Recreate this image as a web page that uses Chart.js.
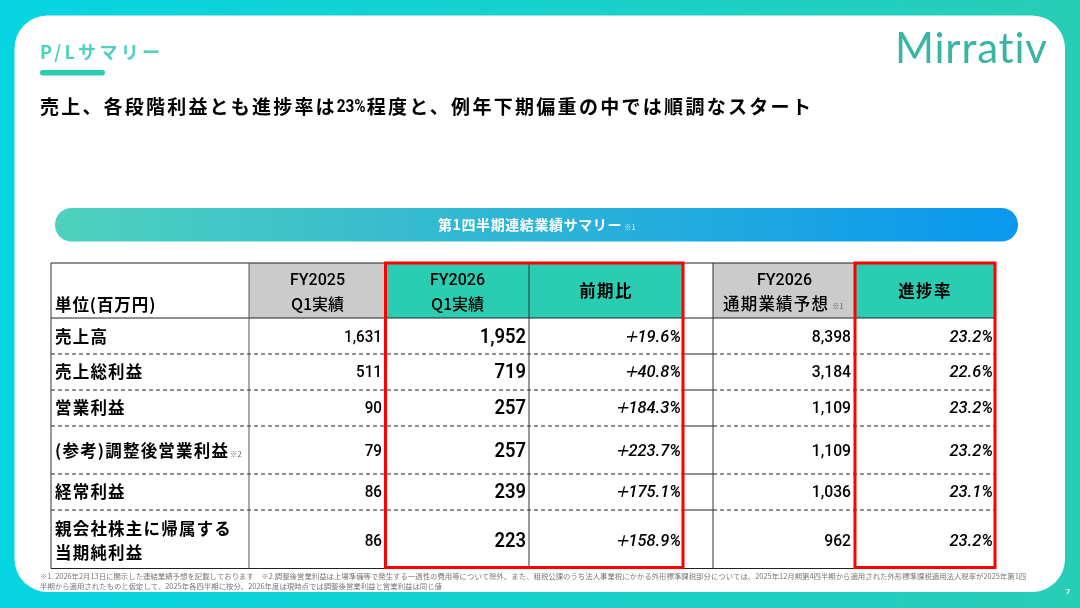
<!DOCTYPE html>
<html lang="ja">
<head>
<meta charset="utf-8">
<title>P/Lサマリー</title>
<script src="https://cdn.jsdelivr.net/npm/chart.js@4"></script>
<style>
  /* the plus sign in the original is much wider than Roboto's */
  @font-face { font-family: "WidePlus"; src: local("DejaVu Sans"); unicode-range: U+2B; font-style: normal; font-weight: 100 900; }
  html, body { margin: 0; padding: 0; background: #fff; overflow: hidden; }
  canvas { display: block; }
</style>
</head>
<body>
<canvas id="plChart" width="1080" height="608"></canvas>
<script>
// values
const rowLabels = ['売上高', '売上総利益', '営業利益', '(参考)調整後営業利益', '経常利益', '親会社株主に帰属する'];
const fy2025Q1 = [1631, 511, 90, 79, 86, 86];
const fy2026Q1 = [1952, 719, 257, 257, 239, 223];
const yoyChange = [19.6, 40.8, 184.3, 223.7, 175.1, 158.9];
const fy2026Forecast = [8398, 3184, 1109, 1109, 1036, 962];
const progressRate = [23.2, 22.6, 23.2, 23.2, 23.1, 23.2];

const pageTitle = 'P/Lサマリー';
const bannerTitle = '第1四半期連結業績サマリー';
const footnote1 = '※1. 2026年2月13日に開示した連結業績予想を記載しております　※2.調整後営業利益は上場準備等で発生する一過性の費用等について除外。また、租税公課のうち法人事業税にかかる外形標準課税部分については、2025年12月期第4四半期から適用された外形標準課税適用法人税率が2025年第1四';
const footnote2 = '半期から適用されたものと仮定して、2025年各四半期に按分。2026年度は現時点では調整後営業利益と営業利益は同じ値';

// table layout, in slide units
const colEdges = [51, 249, 386, 529, 683, 713, 855, 995];
const rowEdges = [263, 318, 354, 390, 426, 474, 510, 568.5];
const rowTextY = [338, 373, 409, 452, 493, 542];

const JP = '"Noto Sans CJK JP"';

function columnPoints(values, rightX) {
  return values.map((v, i) => ({ x: rightX, y: rowTextY[i] }));
}

function plainNumber(v) {
  return v.toLocaleString('en-US');
}
function plusPercent(v) {
  return '+' + v.toFixed(1) + '%';
}
function percent(v) {
  return v.toFixed(1) + '%';
}

function drawText(ctx, text, x, y, opts) {
  ctx.save();
  ctx.font = opts.font;
  ctx.fillStyle = opts.color || '#000';
  ctx.textAlign = opts.align || 'left';
  ctx.textBaseline = 'middle';
  ctx.letterSpacing = (opts.spacing || 0) + 'px';
  ctx.translate(x, y);
  ctx.scale(opts.squeeze || 1, 1);
  ctx.fillText(text, 0, 0);
  ctx.restore();
}

function textWidth(ctx, text, font, spacing) {
  ctx.save();
  ctx.font = font;
  ctx.letterSpacing = (spacing || 0) + 'px';
  const w = ctx.measureText(text).width;
  ctx.restore();
  return w;
}

function roundedBox(ctx, x, y, w, h, r) {
  ctx.beginPath();
  ctx.roundRect(x, y, w, h, r);
  ctx.fill();
}

// slide background, header and banner
const slidePlugin = {
  id: 'slide',
  beforeDraw(chart) {
    const ctx = chart.ctx;
    const sx = chart.scales.x, sy = chart.scales.y;
    const X = v => sx.getPixelForValue(v), Y = v => sy.getPixelForValue(v);

    const bg = ctx.createLinearGradient(X(0), 0, X(1080), 0);
    bg.addColorStop(0, '#06d5e2');
    bg.addColorStop(1, '#28cdb6');
    ctx.fillStyle = bg;
    ctx.fillRect(X(0), Y(0), X(1080) - X(0), Y(608) - Y(0));

    ctx.fillStyle = '#fff';
    roundedBox(ctx, X(14.5), Y(15.5), X(1065) - X(14.5), Y(592) - Y(15.5), 33);

    drawText(ctx, pageTitle, X(40), Y(52.5), { font: 'bold 18px ' + JP, color: '#4fd2bd', spacing: 3.3 });
    ctx.fillStyle = '#2bcdb2';
    roundedBox(ctx, X(40), Y(70), X(105) - X(40), 5.5, 2.7);

    // heading is three runs because the digits are narrower in the original
    const headFont = 'bold 19px ' + JP;
    const headA = '売上、各段階利益とも進捗率は';
    const headB = '23%';
    const headC = '程度と、例年下期偏重の中では順調なスタート';
    let hx = X(40);
    drawText(ctx, headA, hx, Y(107), { font: headFont, spacing: 2.2 });
    hx += textWidth(ctx, headA, headFont, 2.2);
    drawText(ctx, headB, hx, Y(107), { font: 'bold 18px Roboto', squeeze: 0.85 });
    hx += textWidth(ctx, headB, 'bold 18px Roboto') * 0.85 + 1;
    drawText(ctx, headC, hx, Y(107), { font: headFont, spacing: 2.3 });

    // logo
    const logo = ctx.createLinearGradient(X(895), 0, X(1047), 0);
    logo.addColorStop(0, '#38b5a3');
    logo.addColorStop(1, '#45bcae');
    drawText(ctx, 'Mirrativ', X(895), Y(49), { font: '400 42px Lato', color: logo, spacing: 0.8 });

    const band = ctx.createLinearGradient(X(55), 0, X(1018), 0);
    band.addColorStop(0, '#4fd1bd');
    band.addColorStop(1, '#0a97ef');
    ctx.fillStyle = band;
    roundedBox(ctx, X(55), Y(208), X(1018) - X(55), Y(241.5) - Y(208), 16.5);
    drawText(ctx, bannerTitle, X(438), Y(225), { font: 'bold 14px ' + JP, color: '#fff', spacing: 0.6 });
    drawText(ctx, '※1', X(624), Y(227), { font: '7.5px ' + JP, color: '#dff2f8' });

    drawText(ctx, footnote1, X(40), Y(576.5), { font: '7.4px ' + JP, color: '#777' });
    drawText(ctx, footnote2, X(40), Y(586), { font: '7.4px ' + JP, color: '#777' });
    drawText(ctx, '7', X(1068), Y(592), { font: 'bold 8px Roboto', color: '#fff', align: 'center' });
  }
};

// grid, header cells and the text around the values
const tablePlugin = {
  id: 'table',
  beforeDatasetsDraw(chart) {
    const ctx = chart.ctx;
    const sx = chart.scales.x, sy = chart.scales.y;
    const X = v => sx.getPixelForValue(v), Y = v => sy.getPixelForValue(v);
    const top = rowEdges[0], head = rowEdges[1], bottom = rowEdges[rowEdges.length - 1];

    ctx.fillStyle = '#cbcbcb';
    ctx.fillRect(X(colEdges[1]), Y(top), X(colEdges[2]) - X(colEdges[1]), Y(head) - Y(top));
    ctx.fillRect(X(colEdges[5]), Y(top), X(colEdges[6]) - X(colEdges[5]), Y(head) - Y(top));
    ctx.fillStyle = '#2bcdb2';
    ctx.fillRect(X(colEdges[2]), Y(top), X(colEdges[4]) - X(colEdges[2]), Y(head) - Y(top));
    ctx.fillRect(X(colEdges[6]), Y(top), X(colEdges[7]) - X(colEdges[6]), Y(head) - Y(top));

    function hLine(x0, x1, y, dash) {
      ctx.setLineDash(dash || []);
      ctx.beginPath();
      ctx.moveTo(X(x0), Y(y));
      ctx.lineTo(X(x1), Y(y));
      ctx.stroke();
    }
    function vLine(x, y0, y1) {
      ctx.setLineDash([]);
      ctx.beginPath();
      ctx.moveTo(X(x), Y(y0));
      ctx.lineTo(X(x), Y(y1));
      ctx.stroke();
    }

    ctx.strokeStyle = '#222';
    ctx.lineWidth = 1;
    hLine(colEdges[0], colEdges[7], top);
    hLine(colEdges[0], colEdges[7], head);
    hLine(colEdges[0], colEdges[7], bottom);
    for (let i = 2; i < rowEdges.length - 1; i++) {
      hLine(colEdges[0], colEdges[4], rowEdges[i], [4, 3]);
      hLine(colEdges[4], colEdges[5], rowEdges[i]);
      hLine(colEdges[5], colEdges[7], rowEdges[i], [4, 3]);
    }
    ctx.strokeStyle = '#333';
    [0, 3, 4, 5].forEach(c => vLine(colEdges[c], top, bottom));
    ctx.strokeStyle = '#555';
    vLine(colEdges[1], top, bottom);
    ctx.setLineDash([]);

    // header cells
    const headFont = '500 16px ' + JP;
    const latin = '500 16px Roboto';
    drawText(ctx, '単位(百万円)', X(55), Y(305), { font: 'bold 16.5px ' + JP, spacing: 0.9 });
    drawText(ctx, 'FY2025', X(317.5), Y(281), { font: latin, align: 'center' });
    drawText(ctx, 'Q1実績', X(317.5), Y(304), { font: headFont, align: 'center' });
    drawText(ctx, 'FY2026', X(457.5), Y(281), { font: latin, align: 'center' });
    drawText(ctx, 'Q1実績', X(457.5), Y(304), { font: headFont, align: 'center' });
    drawText(ctx, '前期比', X(606), Y(291), { font: 'bold 16.5px ' + JP, align: 'center', spacing: 1.4 });
    drawText(ctx, 'FY2026', X(784.5), Y(281), { font: latin, align: 'center' });
    drawText(ctx, '通期業績予想', X(723), Y(303.5), { font: '500 16.5px ' + JP, spacing: 1.2 });
    drawText(ctx, '※1', X(832), Y(306), { font: '7.5px ' + JP, color: '#666' });
    drawText(ctx, '進捗率', X(925), Y(291), { font: 'bold 16.5px ' + JP, align: 'center', spacing: 1.4 });

    // row labels
    const labelFont = 'bold 16.5px ' + JP;
    rowLabels.forEach((label, i) => {
      const y = i === 5 ? 529 : rowTextY[i] - 1;
      drawText(ctx, label, X(55), Y(y), { font: labelFont, spacing: 1.2 });
    });
    drawText(ctx, '※2', X(230), Y(454), { font: '7.5px ' + JP, color: '#666' });
    drawText(ctx, '当期純利益', X(55), Y(553), { font: labelFont, spacing: 1.2 });
  },
  afterDatasetsDraw(chart) {
    const ctx = chart.ctx;
    // value text sits on the dataset points
    chart.data.datasets.forEach((ds, d) => {
      chart.getDatasetMeta(d).data.forEach((pt, i) => {
        drawText(ctx, ds.format(ds.values[i]), pt.x, pt.y, {
          font: ds.textFont, align: 'right', squeeze: ds.squeeze
        });
      });
    });
    // red highlight frames go on top of everything in the table
    const sx = chart.scales.x, sy = chart.scales.y;
    const X = v => sx.getPixelForValue(v), Y = v => sy.getPixelForValue(v);
    ctx.strokeStyle = '#ff0000';
    ctx.lineWidth = 3;
    ctx.strokeRect(X(385.5), Y(263), X(683) - X(385.5), Y(567.5) - Y(263));
    ctx.strokeRect(X(855), Y(263), X(995) - X(855), Y(567.5) - Y(263));
  }
};

function valueSeries(label, values, rightX, format, textFont, squeeze) {
  return {
    label: label,
    data: columnPoints(values, rightX),
    values: values,
    format: format,
    textFont: textFont,
    squeeze: squeeze,
    pointRadius: 0,
    showLine: false
  };
}

function drawChart() {
  new Chart(document.getElementById('plChart'), {
    type: 'scatter',
    data: {
      datasets: [
        valueSeries('FY2025 Q1実績', fy2025Q1, 382, plainNumber, '500 16px Roboto', 0.95),
        valueSeries('FY2026 Q1実績', fy2026Q1, 526, plainNumber, '600 20px Roboto', 0.92),
        valueSeries('前期比', yoyChange, 681, plusPercent, 'italic 500 17px WidePlus, Roboto', 0.97),
        valueSeries('FY2026 通期業績予想', fy2026Forecast, 851, plainNumber, '500 16px Roboto', 0.98),
        valueSeries('進捗率', progressRate, 993, percent, 'italic 500 17px Roboto', 0.97)
      ]
    },
    options: {
      responsive: false,
      animation: false,
      layout: { padding: 0 },
      plugins: { legend: { display: false }, tooltip: { enabled: false } },
      scales: {
        x: { type: 'linear', min: 0, max: 1080, display: false },
        y: { type: 'linear', min: 0, max: 608, reverse: true, display: false }
      }
    },
    plugins: [slidePlugin, tablePlugin]
  });
}

// local font face has to be ready before the canvas text is drawn
document.fonts.load('italic 500 17px WidePlus', '+').then(drawChart, drawChart);
</script>
</body>
</html>
